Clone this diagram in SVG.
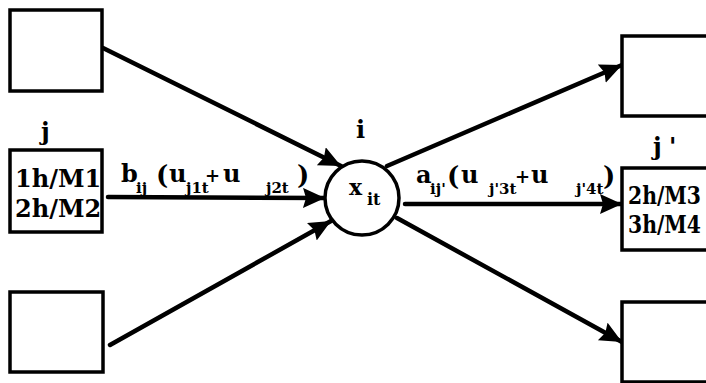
<svg xmlns="http://www.w3.org/2000/svg" width="706" height="383" viewBox="0 0 706 383">
<style>
.box{fill:#fff;stroke:#000;stroke-width:3.5}
.edge{fill:none;stroke:#000;stroke-width:4.5;stroke-linecap:round}
text{font-family:"DejaVu Serif","Liberation Serif",serif;font-weight:bold;fill:#000}
.m{font-size:24px}
.s{font-size:15px}
.p{font-size:26px}
.pl{font-size:18px}
</style>
<defs>
<marker id="ah" markerUnits="userSpaceOnUse" markerWidth="24" markerHeight="22" refX="22" refY="10" orient="auto">
<path d="M0,0 L22,10 L0,20 L3,10 z" fill="#000"/>
</marker>
</defs>
<rect width="706" height="383" fill="#fff"/>
<g id="connectors">
<line class="edge" x1="103" y1="48" x2="341" y2="166" marker-end="url(#ah)"/>
<line class="edge" x1="108" y1="197" x2="325" y2="198" marker-end="url(#ah)"/>
<line class="edge" x1="110" y1="345" x2="331" y2="221" marker-end="url(#ah)"/>
<line class="edge" x1="405" y1="204" x2="622" y2="204" marker-end="url(#ah)"/>
<line class="edge" x1="387" y1="166" x2="622" y2="65" marker-end="url(#ah)"/>
<line class="edge" x1="397" y1="218" x2="622" y2="342" marker-end="url(#ah)"/>
<g id="label-b">
<text class="m" x="121" y="182">b</text><text class="s" x="136" y="193">ij</text>
<text class="p" x="156" y="184">(</text>
<text class="m" x="169" y="182">u</text><text class="s" x="186" y="193">j1t</text>
<text class="pl" x="205" y="182">+</text>
<text class="m" x="223" y="182">u</text><text class="s" x="266" y="193">j2t</text>
<text class="p" x="297" y="184">)</text>
</g>
<g id="label-a">
<text class="m" x="416" y="183">a</text><text class="s" x="430" y="194">ij'</text>
<text class="p" x="447" y="185">(</text>
<text class="m" x="461" y="183">u</text><text class="s" x="489" y="194">j'3t</text>
<text class="pl" x="515" y="183">+</text>
<text class="m" x="531" y="183">u</text><text class="s" x="576" y="194">j'4t</text>
<text class="p" x="603" y="185">)</text>
</g>
</g>
<g id="node-tl"><rect class="box" x="10" y="10" width="92" height="81"/></g>
<g id="node-j">
<text class="m" x="41" y="140">j</text>
<rect class="box" x="10" y="150" width="92" height="82"/>
<text class="m" x="15" y="187">1h/M1</text>
<text class="m" x="15" y="217">2h/M2</text>
</g>
<g id="node-bl"><rect class="box" x="10" y="292" width="93" height="80"/></g>
<g id="node-i">
<text class="m" x="356" y="138">i</text>
<circle cx="362" cy="198" r="37" fill="#fff" stroke="#000" stroke-width="3.5"/>
<text x="349" y="195" style="font-size:22px">x</text><text x="367" y="205" style="font-size:16px">it</text>
</g>
<g id="node-tr"><rect class="box" x="622" y="36" width="100" height="80"/></g>
<g id="node-jp">
<text class="m" x="653" y="155">j</text><text class="m" x="669" y="155">'</text>
<rect class="box" x="622" y="168" width="100" height="82"/>
<text class="m" x="628" y="204" textLength="73" lengthAdjust="spacingAndGlyphs">2h/M3</text>
<text class="m" x="628" y="233" textLength="73" lengthAdjust="spacingAndGlyphs">3h/M4</text>
</g>
<g id="node-br"><rect class="box" x="622" y="302" width="100" height="80"/></g>
</svg>
